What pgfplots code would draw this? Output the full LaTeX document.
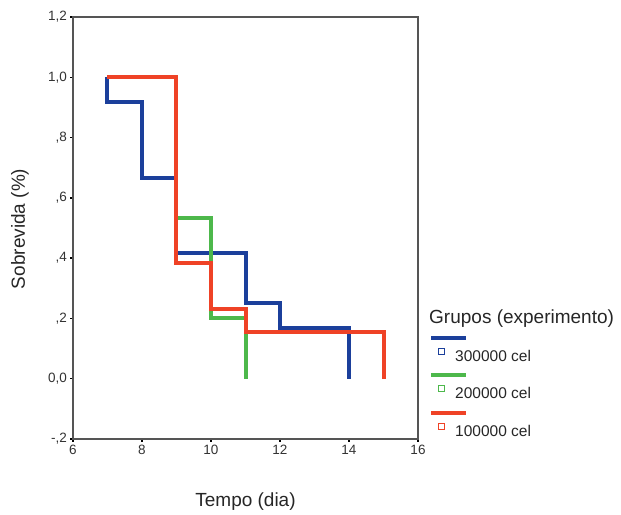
\documentclass[border=0pt]{standalone}
\usepackage{fontspec}
\setmainfont{Liberation Sans}
\usepackage{pgfplots}
\pgfplotsset{compat=1.18}
\definecolor{kmblue}{HTML}{1B3F9B}
\definecolor{kmgreen}{HTML}{4DB84B}
\definecolor{kmred}{HTML}{EF4226}
\definecolor{axgray}{HTML}{555555}

\begin{document}
\begin{tikzpicture}[x=1pt,y=1pt]
\useasboundingbox (-73,-75) rectangle (548,439);
\begin{axis}[
    at={(0,0)}, anchor=south west,
    scale only axis, width=345pt, height=422pt,
    xmin=6, xmax=16, ymin=-0.2, ymax=1.2,
    xtick={6,8,10,12,14,16},
    ytick={-0.2,0,0.2,0.4,0.6,0.8,1.0,1.2},
    yticklabels={{-,2},{0,0},{,2},{,4},{,6},{,8},{1,0},{1,2}},
    tick pos=left,
    tick align=outside,
    major tick length=2.5pt,
    tick style={black, line width=1.5pt},
    axis line style={axgray, line width=1.2pt},
    ticklabel style={font=\fontsize{13.5}{15}\selectfont, text=black!80},
    /pgf/number format/assume math mode=true,
    xlabel={Tempo (dia)},
    ylabel={Sobrevida (\%)},
    label style={font=\fontsize{19}{22}\selectfont, text=black!85},
    xlabel style={at={(axis description cs:0.5,-0.149)}, anchor=center},
    ylabel style={at={(axis description cs:-0.154,0.498)}, anchor=center},
]
% 300000 cel
\addplot[kmblue, line width=4pt, const plot] coordinates {
(7,1.0) (7,0.917) (8,0.667) (9,0.417) (11,0.25) (12,0.167) (14,0)
};
% 200000 cel
\addplot[kmgreen, line width=4pt, const plot] coordinates {
(7,1.0) (9,0.533) (10,0.2) (11,0)
};
% 100000 cel
\addplot[kmred, line width=4pt, const plot] coordinates {
(7,1.0) (9,0.385) (10,0.231) (11,0.154) (15,0)
};
\end{axis}
% legend
\node[anchor=base west, inner sep=0, font=\fontsize{19}{22}\selectfont, text=black!85] at (356,115) {Grupos (experimento)};
\draw[kmblue, line width=3.2pt] (358,101) -- (393,101);
\draw[kmblue, line width=1pt] (365,84) rectangle (371,90);
\node[anchor=west, inner sep=0, font=\fontsize{15.5}{18}\selectfont, text=black!85] at (382,83) {300000 cel};
\draw[kmgreen, line width=3.2pt] (358,64) -- (393,64);
\draw[kmgreen, line width=1pt] (365,47) rectangle (371,53);
\node[anchor=west, inner sep=0, font=\fontsize{15.5}{18}\selectfont, text=black!85] at (382,46) {200000 cel};
\draw[kmred, line width=3.2pt] (358,26) -- (393,26);
\draw[kmred, line width=1pt] (365,9) rectangle (371,15);
\node[anchor=west, inner sep=0, font=\fontsize{15.5}{18}\selectfont, text=black!85] at (382,8) {100000 cel};
\end{tikzpicture}
\end{document}
